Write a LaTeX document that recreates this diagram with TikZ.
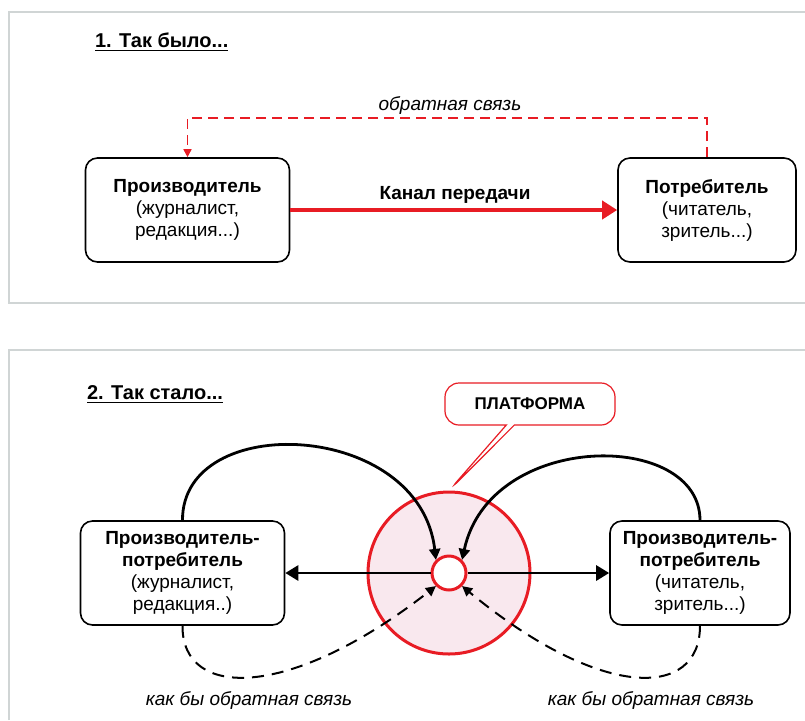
\documentclass[tikz,border=0pt]{standalone}
\usepackage{fontspec}
\setmainfont{Liberation Sans}
\usetikzlibrary{arrows.meta,positioning,calc,shapes.callouts}
\definecolor{platred}{RGB}{232,28,36}
\definecolor{platpink}{RGB}{249,232,238}
\definecolor{framegray}{RGB}{208,213,213}

\begin{document}
\begin{tikzpicture}[x=0.5pt, y=-0.5pt,
    font=\fontsize{9.5}{11}\selectfont,
    frame/.style={draw=framegray, line width=1pt},
    agent/.style={draw, rounded corners=6pt, line width=0.8pt, minimum width=102pt, minimum height=52pt, align=center, fill=white},
    title/.style={anchor=west, font=\fontsize{10}{12}\selectfont\bfseries},
    lbl/.style={font=\fontsize{9.5}{11}\selectfont\itshape},
    redarr/.style={-{Triangle[length=7.5pt,width=9pt]}, draw=platred, fill=platred, line width=2.2pt},
    fb/.style={-{Triangle[length=4pt,width=4pt]}, draw=platred, line width=0.8pt, dash pattern=on 5pt off 3pt},
    arr/.style={-{Triangle[length=6.5pt,width=7.5pt]}, line width=1.4pt},
    carr/.style={-{Triangle[length=5.5pt,width=5.5pt]}, line width=1.4pt},
    darr/.style={-{Triangle[length=5pt,width=5pt]}, line width=1pt, dash pattern=on 6pt off 4pt},
    callbox/.style={rectangle callout, draw=platred, fill=white, rounded corners=7pt, line width=0.6pt, minimum width=85pt, minimum height=21pt, font=\fontsize{8.5}{10}\selectfont\bfseries, callout pointer width=4pt}
]
\useasboundingbox (0,0) rectangle (805,720);
\draw[frame] (805,12) -- (9,12) -- (9,303) -- (805,303);
\draw[frame] (9,720) -- (9,350) -- (805,350);

% 1
\node[title] (t1) at (88,42) {\underline{1. Так было...}};
\node[agent] (prod) at (187.5,210) {\textbf{Производитель}\\(журналист,\\редакция...)};
\node[agent, minimum width=89pt] (cons) at (707,210) {\textbf{Потребитель}\\(читатель,\\зритель...)};
\node[font=\fontsize{9.5}{11}\selectfont\bfseries] (chan) at (455,195) {Канал передачи};
\coordinate (fbtop) at (450,118);
\node[lbl] (fblbl) at (450,105) {обратная связь};

\draw[redarr] (prod) -- (cons);
\draw[fb] (cons.north) |- (fbtop) -| (prod.north);

% 2
\node[title] (t2) at (80,395) {\underline{2. Так стало...}};
\node[circle, draw=platred, fill=platpink, line width=1.5pt, minimum size=81pt] (plat) at (449,573) {};
\node[circle, draw=platred, fill=white, line width=1.5pt, minimum size=17pt] (hub) at (449,573) {};
\node[callbox, callout absolute pointer={(plat.north)}] (platlbl) at (530,404) {ПЛАТФОРМА};
\node[agent] (pcl) at (182.5,573) {\textbf{Производитель-}\\\textbf{потребитель}\\(журналист,\\редакция..)};
\node[agent, minimum width=90pt] (pcr) at (700,573) {\textbf{Производитель-}\\\textbf{потребитель}\\(читатель,\\зритель...)};
\node[lbl] (asl) at (249,700) {как бы обратная связь};
\node[lbl] (asr) at (651,700) {как бы обратная связь};

\draw[arr] (hub) -- (pcl);
\draw[arr] (hub) -- (pcr);
\draw[carr] (pcl.north) .. controls (182,410) and (420,420) .. (hub.north west);
\draw[carr] (pcr.north) .. controls (700,430) and (490,430) .. (hub.north east);
\draw[darr] (pcl.south) .. controls (182,700) and (290,700) .. (hub.south west);
\draw[darr] (pcr.south) .. controls (700,700) and (600,700) .. (hub.south east);
\end{tikzpicture}
\end{document}
